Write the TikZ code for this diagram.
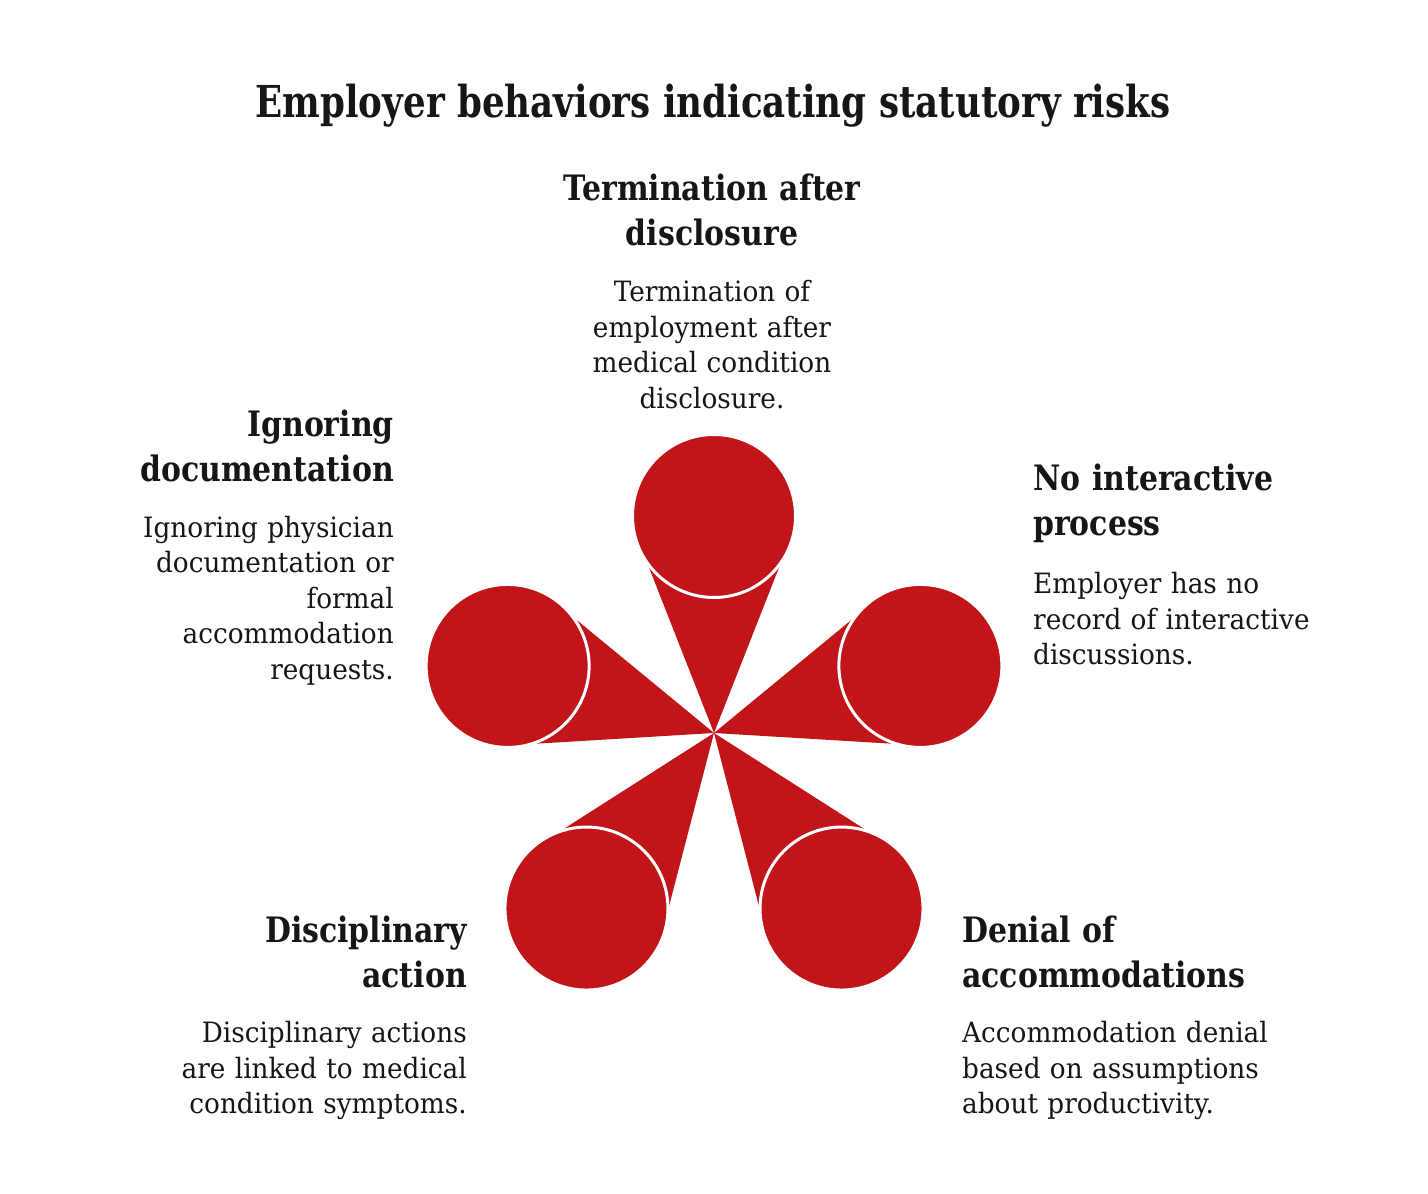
\documentclass[tikz,border=0pt]{standalone}
\usepackage{fontspec}
\setmainfont{DejaVu Serif}[FakeStretch=0.94]
\newfontfamily\headfont{DejaVu Serif}[FakeStretch=0.855]
\newfontfamily\titlefont{DejaVu Serif}[FakeStretch=0.81]
\definecolor{petal}{RGB}{193,21,26}
\definecolor{ink}{RGB}{22,22,22}
\tikzset{
  titletext/.style={font=\titlefont\bfseries\fontsize{44}{53}\selectfont, text=ink, inner sep=0pt},
  headtext/.style={font=\headfont\bfseries\fontsize{35}{44.5}\selectfont, text=ink, inner sep=0pt, text width=#1},
  bodytext/.style={font=\fontsize{28}{35.4}\selectfont, text=ink, inner sep=0pt, text width=#1},
  petalfill/.style={fill=petal},
  bulb/.style={circle, fill=petal, draw=white, line width=3pt, minimum size=163pt, inner sep=0pt}
}
\begin{document}
\begin{tikzpicture}[x=1pt,y=1pt]
\useasboundingbox (0,0) rectangle (1428,1194);
% centre of star (image y = 733)
\coordinate (C) at (714,461);
% petals
\foreach \a/\n in {90/t,18/r,-54/br,-126/bl,162/l}{
  \fill[petalfill] (C) -- ([shift={(\a+21.45:180.5)}]C) -- ([shift={(\a-21.45:180.5)}]C) -- cycle;
  \node[bulb] (bulb\n) at ([shift={(\a:217)}]C) {};
}
% title
\node[titletext, anchor=base] (title) at (713,1076) {Employer behaviors indicating statutory risks};
% top
\node[headtext=400pt, align=center, anchor=base] (htop) at (712,993) {Termination after\\disclosure};
\node[bodytext=400pt, align=center, anchor=base] (btop) at (712,892) {Termination of\\employment after\\medical condition\\disclosure.};
% left
\node[headtext=400pt, align=right, anchor=base east] (hleft) at (394,757) {Ignoring\\documentation};
\node[bodytext=400pt, align=right, anchor=base east] (bleft) at (394,656.5) {Ignoring physician\\documentation or\\formal\\accommodation\\requests.};
% right
\node[headtext=400pt, align=left, anchor=base west] (hright) at (1033,703) {No interactive\\process};
\node[bodytext=400pt, align=left, anchor=base west] (bright) at (1033,600) {Employer has no\\record of interactive\\discussions.};
% bottom left
\node[headtext=400pt, align=right, anchor=base east] (hbl) at (467,251) {Disciplinary\\action};
\node[bodytext=400pt, align=right, anchor=base east] (bbl) at (467,151) {Disciplinary actions\\are linked to medical\\condition symptoms.};
% bottom right
\node[headtext=400pt, align=left, anchor=base west] (hbr) at (962,251) {Denial of\\accommodations};
\node[bodytext=400pt, align=left, anchor=base west] (bbr) at (962,151) {Accommodation denial\\based on assumptions\\about productivity.};
\end{tikzpicture}
\end{document}
